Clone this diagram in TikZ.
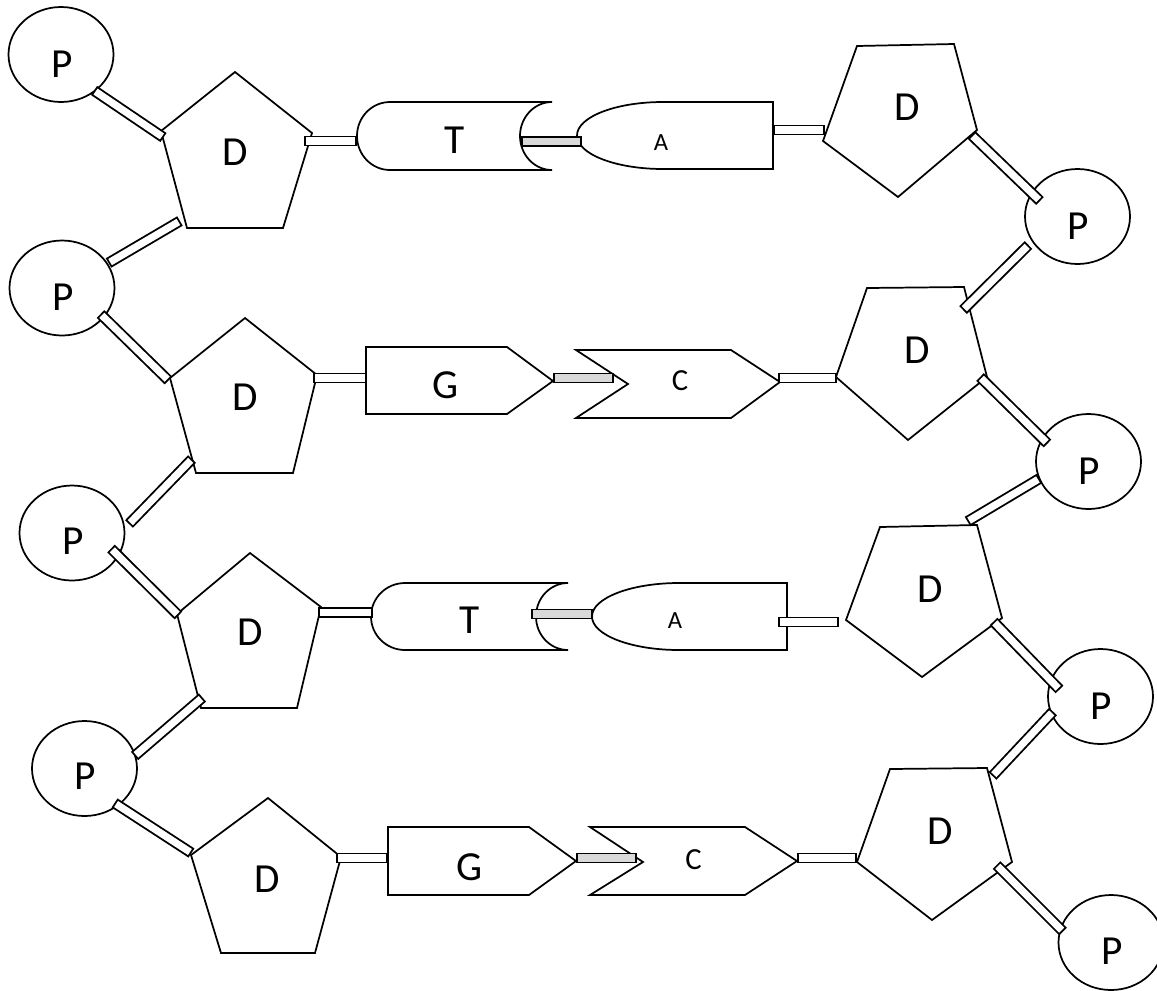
\documentclass[tikz,border=0pt]{standalone}
\usepackage{fontspec}
\setmainfont{Carlito}
\usetikzlibrary{shapes.geometric}
\definecolor{bondgray}{HTML}{D9D9D9}
\newcommand\dnabond[4]{%
  \coordinate (#1s) at (#2);
  \coordinate (#1e) at (#3);
  \draw[line width=8.2pt, black] (#1s) -- (#1e);
  \draw[line width=5.4pt, draw=#4, shorten <=1.4pt, shorten >=1.4pt] (#1s) -- (#1e);
}
% T base: #1 left, #2 cap start, #3 concave x, #4 right, #5 top, #6 bottom
\newcommand\tbase[6]{%
  \pgfmathsetmacro\tmid{(#5+#6)/2}%
  \pgfmathsetmacro\tka{(#2-#1)*0.5523}%
  \pgfmathsetmacro\tkb{(#4-#3)*0.5523}%
  \pgfmathsetmacro\tky{(#6-#5)/2*0.5523}%
  \draw[outl] (#2,#5) -- (#4,#5)
    .. controls (#4-\tkb,#5) and (#3,\tmid-\tky) .. (#3,\tmid)
    .. controls (#3,\tmid+\tky) and (#4-\tkb,#6) .. (#4,#6)
    -- (#2,#6)
    .. controls (#2-\tka,#6) and (#1,\tmid+\tky) .. (#1,\tmid)
    .. controls (#1,\tmid-\tky) and (#2-\tka,#5) .. (#2,#5) -- cycle;
}
% A base: #1 left, #2 curve end, #3 right, #4 top, #5 bottom
\newcommand\abase[5]{%
  \pgfmathsetmacro\amid{(#4+#5)/2}%
  \pgfmathsetmacro\akx{(#2-#1)*0.5523}%
  \pgfmathsetmacro\aky{(#5-#4)/2*0.5523}%
  \draw[outl] (#2,#4) -- (#3,#4) -- (#3,#5) -- (#2,#5)
    .. controls (#2-\akx,#5) and (#1,\amid+\aky) .. (#1,\amid)
    .. controls (#1,\amid-\aky) and (#2-\akx,#4) .. (#2,#4) -- cycle;
}
\begin{document}
\begin{tikzpicture}[x=0.75pt, y=-0.75pt,
  outl/.style={draw=black, line width=1.3pt, fill=white, line join=miter},
  pnode/.style={ellipse, draw=black, line width=1.3pt, fill=white, minimum width=78.75pt, minimum height=71.25pt, inner sep=0pt},
  big/.style={inner sep=0pt, font=\fontsize{31}{36}\selectfont},
  smallA/.style={inner sep=0pt, font=\fontsize{18.5}{22}\selectfont},
  smallC/.style={inner sep=0pt, font=\fontsize{23}{27}\selectfont}]
\useasboundingbox (0,0) rectangle (1157,990);

% phosphate groups
\node[pnode] (p1) at (61,54.5) {};
\node[pnode] (p2) at (62,288) {};
\node[pnode] (p3) at (72,533) {};
\node[pnode] (p4) at (84.5,768.5) {};
\node[pnode] (p5) at (1077.5,216.5) {};
\node[pnode] (p6) at (1088.5,461.5) {};
\node[pnode] (p7) at (1100.5,696.5) {};
\node[pnode] (p8) at (1111,942.5) {};
\node[big] (p1l) at (62,64.5) {P};
\node[big] (p2l) at (63,297) {P};
\node[big] (p3l) at (73,541) {P};
\node[big] (p4l) at (85,776.5) {P};
\node[big] (p5l) at (1078.5,226) {P};
\node[big] (p6l) at (1089,471) {P};
\node[big] (p7l) at (1101.5,706) {P};
\node[big] (p8l) at (1112,951.5) {P};

% deoxyribose pentagons
\draw[outl] (235,72) -- (312,133) -- (283,228) -- (187,228) -- (161,131) -- cycle;
\draw[outl] (245,318) -- (317,375) -- (293,473) -- (196,473) -- (170,378) -- cycle;
\draw[outl] (250,553) -- (321,607) -- (297,708) -- (201,708) -- (177,614) -- cycle;
\draw[outl] (268,798) -- (341,857) -- (315,953) -- (221,953) -- (191,855) -- cycle;
\draw[outl] (857,46) -- (954,44) -- (977,130) -- (898,197) -- (823,141) -- cycle;
\draw[outl] (867,288) -- (964,287) -- (987,377) -- (908,440) -- (836,377) -- cycle;
\draw[outl] (880,527) -- (977,525) -- (1002,618) -- (922,677) -- (846,620) -- cycle;
\draw[outl] (890,769) -- (987,768) -- (1012,862) -- (932,920) -- (857,862) -- cycle;
\node[big] (d1) at (235,152.5) {D};
\node[big] (d2) at (245.5,397) {D};
\node[big] (d3) at (250,632) {D};
\node[big] (d4) at (267.5,879) {D};
\node[big] (d5) at (907.5,107.5) {D};
\node[big] (d6) at (917.5,350) {D};
\node[big] (d7) at (930,589) {D};
\node[big] (d8) at (940.5,831) {D};

% bases
\tbase{357}{390}{520}{552}{102}{170}
\abase{577}{663}{773}{102}{169}
\draw[outl] (366,347) -- (507,347) -- (553,381) -- (507,414) -- (366,414) -- cycle;
\draw[outl] (576,350) -- (731,350) -- (780,382) -- (731,418) -- (576,418) -- (628,384) -- cycle;
\tbase{371}{405}{536}{568}{583}{650}
\abase{592}{679}{787}{583}{650}
\draw[outl] (388,827) -- (529,827) -- (576,861) -- (529,895) -- (388,895) -- cycle;
\draw[outl] (590,827) -- (745,827) -- (797,861) -- (745,895) -- (590,895) -- (643,862) -- cycle;
\node[big] (t1) at (455,140) {T};
\node[smallA] (a1) at (661,142.5) {A};
\node[big] (g1) at (446,385) {G};
\node[smallC] (c1) at (680,381) {C};
\node[big] (t2) at (470,620) {T};
\node[smallA] (a2) at (675,621) {A};
\node[big] (g2) at (469.5,867) {G};
\node[smallC] (c2) at (693.5,860) {C};

% backbone bonds
\dnabond{b1}{94,90.5}{163.5,137.5}{white}
\dnabond{b2}{180,221}{108.5,263}{white}
\dnabond{b3}{100.5,314}{168.5,380.5}{white}
\dnabond{b4}{192,459}{129,524}{white}
\dnabond{b5}{111,548.5}{178.5,615.5}{white}
\dnabond{b6}{202.5,697.5}{134.5,756}{white}
\dnabond{b7}{114.5,803}{191.5,853}{white}
\dnabond{b8}{971.5,135}{1040,201}{white}
\dnabond{b9}{1028.5,245}{963,310}{white}
\dnabond{b10}{980,377}{1047.5,443.5}{white}
\dnabond{b11}{1039.5,478.5}{967.5,521.5}{white}
\dnabond{b12}{993.5,621.5}{1059.5,689.5}{white}
\dnabond{b13}{1053,711.5}{992.5,776}{white}
\dnabond{b14}{996.5,865}{1063,931.5}{white}
% sugar-base and base-pair bonds
\dnabond{h1}{304,141}{357,141}{white}
\dnabond{h2}{521,141.5}{582,141.5}{bondgray}
\dnabond{h3}{773,130}{825,130}{white}
\dnabond{h4}{313,378}{367,378}{white}
\dnabond{h5}{553,378}{614,378}{bondgray}
\dnabond{h6}{778,378}{837,378}{white}
\dnabond{h7}{318,612.5}{373,612.5}{white}
\dnabond{h8}{531,614}{593,614}{bondgray}
\dnabond{h9}{778,622}{839,622}{white}
\dnabond{h10}{336,858}{388,858}{white}
\dnabond{h11}{576,858}{637,858}{bondgray}
\dnabond{h12}{797,858}{857,858}{white}
\end{tikzpicture}
\end{document}
